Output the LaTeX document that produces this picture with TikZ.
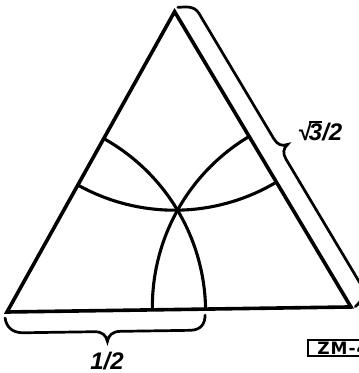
\documentclass[tikz,border=0pt]{standalone}
\usepackage{fontspec}
\setmainfont{Liberation Sans}
\newfontfamily\zmfont[LetterSpace=6]{DejaVu Sans}
\newcommand\ovlbar[1]{\vbox{\hrule height 1.8pt\kern 1pt\hbox{#1}}}
\begin{document}
\begin{tikzpicture}[x=1pt,y=1pt,
  side/.style={line width=3.6pt, line join=miter},
  arcline/.style={line width=3.1pt},
  bracepath/.style={line width=2.7pt, line cap=round},
  lbl/.style={font=\fontsize{24}{24}\selectfont\bfseries\itshape, inner sep=0pt},
  zmbox/.style={draw, line width=1.8pt, font=\zmfont\fontsize{17}{17}\selectfont\bfseries,
    inner xsep=2pt, inner ysep=1.5pt, minimum width=70pt, text depth=0pt, anchor=west, align=left}]
\useasboundingbox (0,0) rectangle (359,373);
\coordinate (A) at (7,61);
\coordinate (B) at ([shift={(0.84:344)}]A);
\coordinate (C) at ([shift={(60.84:344)}]A);
% arcs centred at the vertices, radius = circumradius
\draw[arcline] ([shift={(0.84:198.6)}]A) arc[start angle=0.84, end angle=60.84, radius=198.6pt];
\draw[arcline] ([shift={(180.84:198.6)}]B) arc[start angle=180.84, end angle=120.84, radius=198.6pt];
\draw[arcline] ([shift={(240.84:198.6)}]C) arc[start angle=240.84, end angle=300.84, radius=198.6pt];
% triangle
\draw[side] (A) -- (B) -- (C) -- cycle;
% right brace
\begin{scope}[shift={(C)}, rotate=-59.16]
\draw[bracepath] (-2,5) .. controls (1,10) and (4,20) .. (14,20) -- (160,20)
  .. controls (167,20) and (171,23) .. (172,29)
  .. controls (173,23) and (177,20) .. (184,20) -- (330,20)
  .. controls (340,20) and (344.5,12) .. (346,4);
\end{scope}
% bottom brace
\begin{scope}[shift={(A)}, rotate=0.84]
\draw[bracepath] (-2,-6) .. controls (-1,-14) and (4,-21) .. (16,-21) -- (87,-21)
  .. controls (95,-21) and (99,-25) .. (100,-31)
  .. controls (101,-25) and (105,-21) .. (113,-21) -- (183,-21)
  .. controls (194,-21) and (198,-14) .. (198,-6);
\end{scope}
% labels
\node[lbl] (half) at (107,12) {1/2};
\node[lbl] (sq) at (320,242) {√\kern-.08em\ovlbar{3}/2};
\node[zmbox] (zm) at (307,25) {ZM-4};
\end{tikzpicture}
\end{document}
